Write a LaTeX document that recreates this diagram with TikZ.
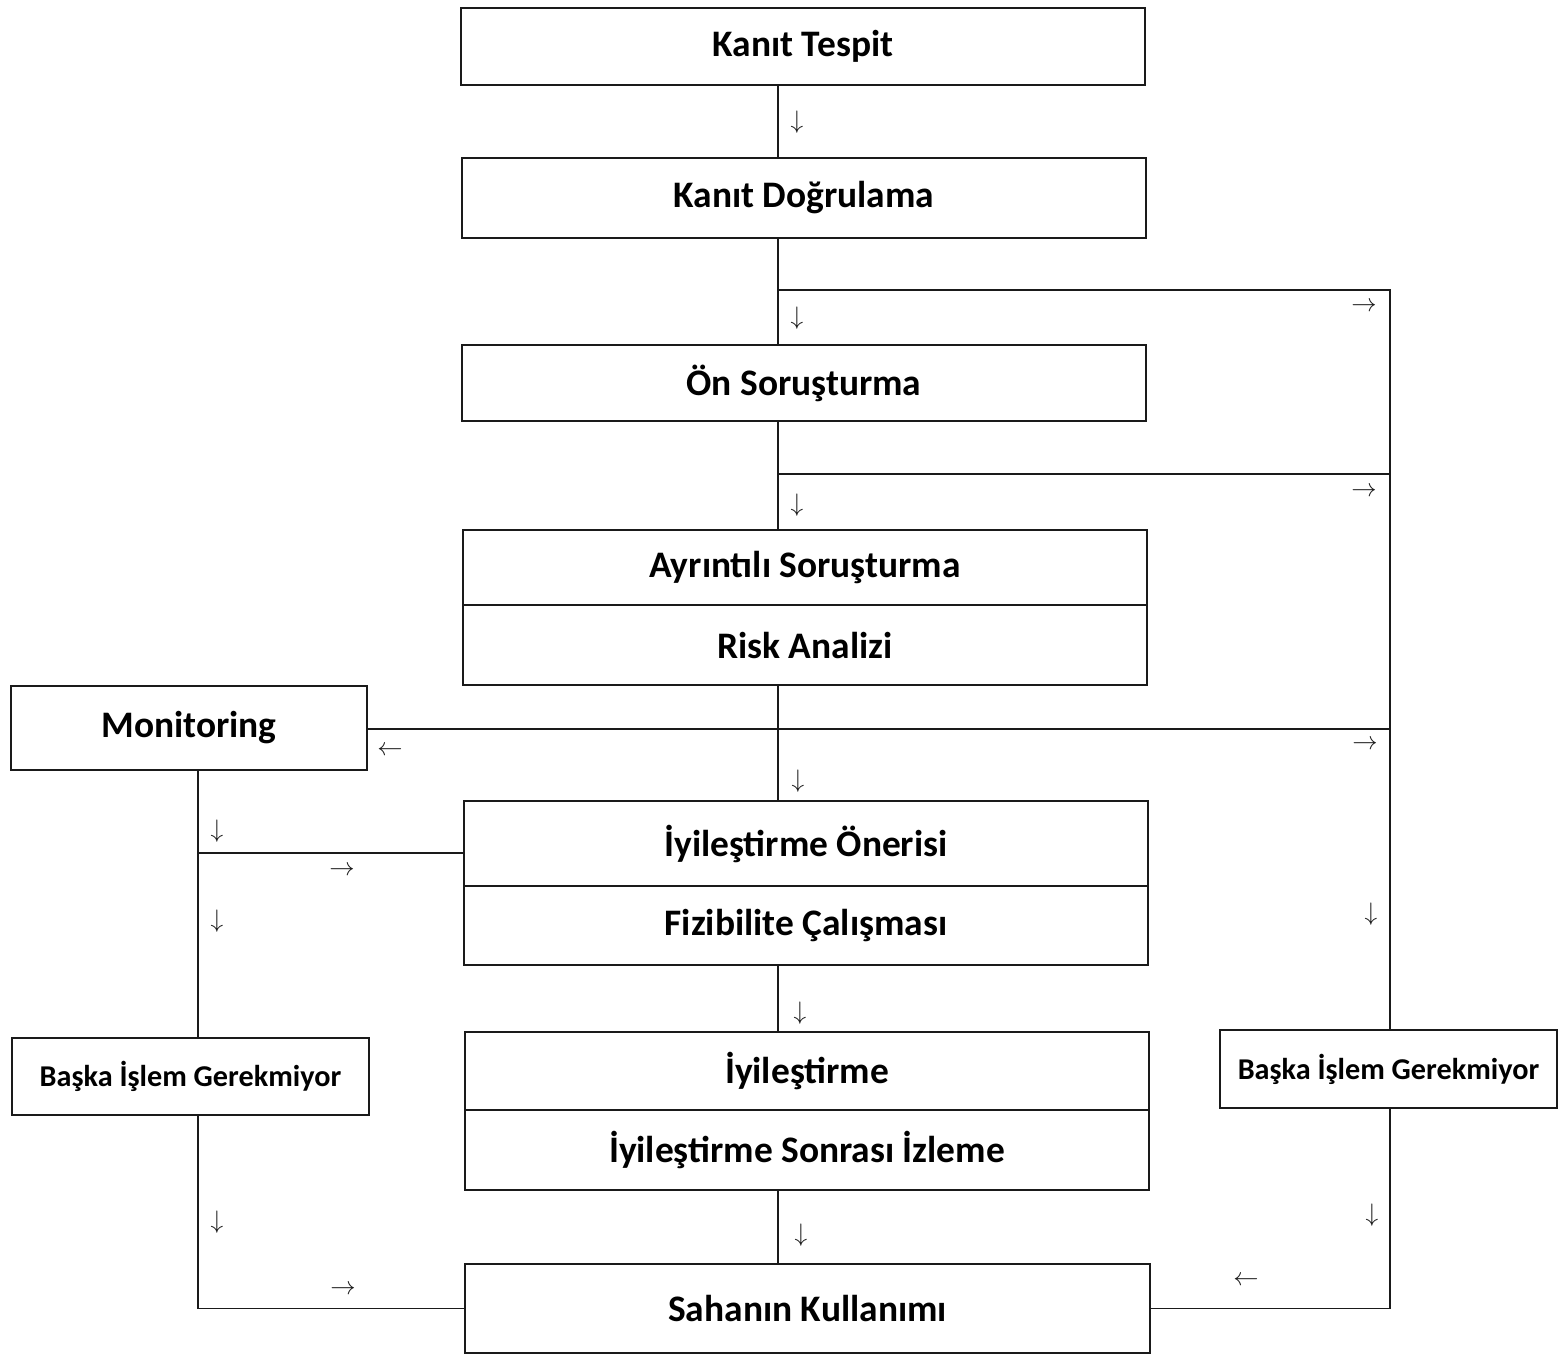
\documentclass[tikz,border=0pt]{standalone}
\usepackage{fontspec}
\setmainfont{Carlito}
\definecolor{inkline}{HTML}{1A1A1A}

\tikzset{
  stepbox/.style={draw=inkline,line width=1.4pt,fill=white,inner sep=0pt,
    minimum width=13.68cm,font=\fontsize{21.3}{24}\selectfont\bfseries},
  sidebox/.style={stepbox,minimum width=7.13cm},
  smallbox/.style={stepbox,font=\fontsize{17.2}{20}\selectfont\bfseries},
  flow/.style={draw=inkline,line width=0.9pt},
  dirsign/.style={font=\fontsize{14}{15}\selectfont,inner sep=0pt,text=inkline}
}

\begin{document}
\begin{tikzpicture}[x=0.02cm,y=-0.02cm]
\useasboundingbox (0,0) rectangle (1564,1356);

% main column
\node[stepbox,minimum height=1.54cm] (tespit) at (803,46.5) {Kanıt Tespit};
\node[stepbox,minimum height=1.6cm] (dogrula) at (804,198) {Kanıt Doğrulama};
\node[stepbox,minimum height=1.52cm] (onsor) at (804,383) {Ön Soruşturma};
\node[stepbox,minimum height=1.5cm] (ayrinti) at (805,567.5) {Ayrıntılı Soruşturma};
\node[stepbox,minimum height=1.6cm] (risk) at (805,645) {Risk Analizi};
\node[stepbox,minimum height=1.7cm] (oneri) at (806,843.5) {İyileştirme Önerisi};
\node[stepbox,minimum height=1.58cm] (fizib) at (806,925.5) {Fizibilite Çalışması};
\node[stepbox,minimum height=1.56cm] (iyiles) at (807,1071) {İyileştirme};
\node[stepbox,minimum height=1.6cm] (izleme) at (807,1150) {İyileştirme Sonrası İzleme};
\node[stepbox,minimum height=1.78cm,minimum width=13.7cm] (saha) at (807.5,1308.5) {Sahanın Kullanımı};

% side boxes
\node[sidebox,minimum width=7.12cm,minimum height=1.68cm] (monit) at (189,728) {Monitoring};
\node[smallbox,minimum width=7.14cm,minimum height=1.54cm] (baskaL) at (190.5,1076.5) {Başka İşlem Gerekmiyor};
\node[smallbox,minimum width=6.74cm,minimum height=1.56cm] (baskaR) at (1388.5,1069) {Başka İşlem Gerekmiyor};

% columns and branch points
\coordinate (spine) at (778,0);
\coordinate (rcol) at (1390,0);
\coordinate (lcol) at (198,0);
\coordinate (br1) at (778,290);
\coordinate (br2) at (778,474);
\coordinate (br3) at (778,729);
\coordinate (brL) at (198,853);

% connectors
\draw[flow] (tespit.south -| spine) -- (dogrula.north -| spine);
\draw[flow] (dogrula.south -| spine) -- (onsor.north -| spine);
\draw[flow] (onsor.south -| spine) -- (ayrinti.north -| spine);
\draw[flow] (risk.south -| spine) -- (oneri.north -| spine);
\draw[flow] (fizib.south -| spine) -- (iyiles.north -| spine);
\draw[flow] (izleme.south -| spine) -- (saha.north -| spine);
\draw[flow] (br1) -- (br1 -| rcol) -- (baskaR.north -| rcol);
\draw[flow] (br2) -- (br2 -| rcol);
\draw[flow] (monit.east |- br3) -- (br3 -| rcol);
\draw[flow] (monit.south -| lcol) -- (baskaL.north -| lcol);
\draw[flow] (brL) -- (brL -| oneri.west);
\draw[flow] (baskaL.south -| lcol) |- (saha.west);
\draw[flow] (baskaR.south -| rcol) |- (saha.east);

% direction signs
\foreach \px/\py/\sym [count=\i] in {
  797/122/\downarrow, 797/318/\downarrow, 1364/307/\rightarrow,
  797/505/\downarrow, 1364/492/\rightarrow, 390/751/\leftarrow,
  1365/745/\rightarrow, 798/781/\downarrow, 217/831/\downarrow,
  342/871/\rightarrow, 217/921/\downarrow, 1371/914/\downarrow,
  800/1013/\downarrow, 801/1235/\downarrow, 217/1222/\downarrow,
  343/1290/\rightarrow, 1372/1215/\downarrow, 1246/1281/\leftarrow}{%
  \node[dirsign] (sign\i) at (\px,\py) {$\sym$};
}
\end{tikzpicture}
\end{document}
